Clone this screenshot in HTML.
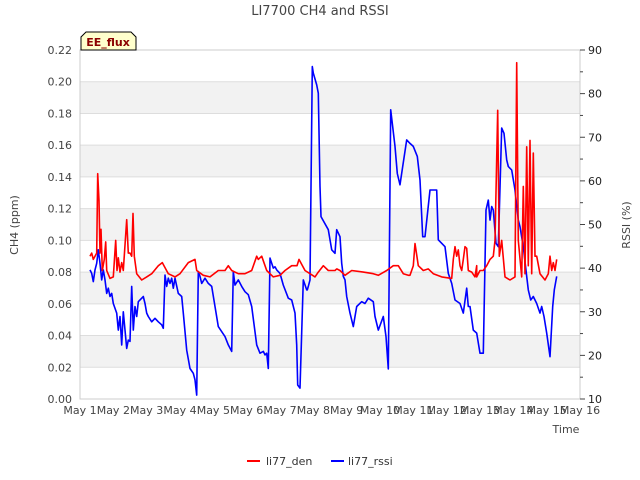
<!DOCTYPE html>
<html><head><meta charset="utf-8"><style>
body{margin:0;background:#fff;}
svg{display:block;font-family:"DejaVu Sans","Liberation Sans",sans-serif;}
</style></head><body>
<svg id="chart" width="640" height="480" xmlns="http://www.w3.org/2000/svg">
<text x="320" y="15" text-anchor="middle" font-size="13" fill="#444">LI7700 CH4 and RSSI</text>
<g id="bands"></g>
<g id="grid"></g>
<rect x="80" y="50" width="500" height="349" fill="none" stroke="#ccc"/>
<g id="yl"></g>
<g id="yr"></g>
<g id="xa"></g>
<g id="series"></g>
<text transform="translate(18,225) rotate(-90)" text-anchor="middle" font-size="11" fill="#444">CH4 (ppm)</text>
<text transform="translate(630,225) rotate(-90)" text-anchor="middle" font-size="11" fill="#444">RSSI (%)</text>
<text x="566" y="433" text-anchor="middle" font-size="11" fill="#444">Time</text>
<g>
<path d="M81,50 L81,37 L86,32 L131,32 L136,37 L136,50 Z" fill="#ffffcc" stroke="#000" stroke-width="1"/>
<text x="108" y="46" text-anchor="middle" font-size="11" font-weight="bold" fill="#8b0000">EE_flux</text>
</g>
<g>
<g><line x1="247" y1="461" x2="260" y2="461" stroke="#f00" stroke-width="2"/><text x="266" y="465" font-size="11" fill="#333">li77_den</text></g>
<g><line x1="331" y1="461" x2="344" y2="461" stroke="#00f" stroke-width="2"/><text x="348" y="465" font-size="11" fill="#333">li77_rssi</text></g>
</g>
</svg>
<script>
const ch4Ticks=[0,0.02,0.04,0.06,0.08,0.10,0.12,0.14,0.16,0.18,0.20,0.22];
const rssiTicks=[10,20,30,40,50,60,70,80,90];
const xTickLabels=["May 1","May 2","May 3","May 4","May 5","May 6","May 7","May 8","May 9","May 10","May 11","May 12","May 13","May 14","May 15","May 16"];
const redDays=[0.3,0.35,0.4,0.45,0.5,0.53,0.57,0.6,0.63,0.67,0.73,0.77,0.8,0.9,1.0,1.07,1.11,1.15,1.2,1.25,1.3,1.4,1.45,1.5,1.55,1.59,1.63,1.7,1.85,2.0,2.15,2.35,2.47,2.65,2.85,3.0,3.25,3.45,3.5,3.7,3.9,4.15,4.35,4.45,4.55,4.75,4.95,5.15,5.3,5.35,5.45,5.6,5.8,6.0,6.15,6.35,6.5,6.51,6.57,6.75,6.9,7.05,7.15,7.3,7.45,7.55,7.65,7.7,7.8,7.95,8.15,8.5,8.8,8.95,9.2,9.4,9.55,9.7,9.85,9.9,10.0,10.05,10.15,10.3,10.45,10.6,10.85,11.15,11.15,11.2,11.25,11.3,11.35,11.4,11.45,11.5,11.55,11.6,11.65,11.75,11.85,11.9,11.9,12.0,12.1,12.2,12.3,12.4,12.45,12.53,12.58,12.65,12.75,12.9,13.05,13.1,13.15,13.25,13.3,13.35,13.4,13.45,13.5,13.55,13.6,13.65,13.7,13.8,13.95,14.05,14.1,14.15,14.2,14.25,14.3];
const redCh4=[0.090,0.092,0.088,0.090,0.092,0.142,0.125,0.092,0.107,0.081,0.088,0.099,0.081,0.076,0.077,0.100,0.081,0.089,0.080,0.086,0.081,0.113,0.092,0.092,0.090,0.117,0.090,0.079,0.075,0.077,0.079,0.084,0.086,0.079,0.077,0.079,0.086,0.088,0.081,0.078,0.077,0.081,0.081,0.084,0.081,0.079,0.079,0.081,0.090,0.088,0.090,0.081,0.077,0.078,0.081,0.084,0.084,0.084,0.088,0.081,0.079,0.077,0.080,0.084,0.081,0.081,0.081,0.082,0.081,0.078,0.081,0.080,0.079,0.078,0.081,0.084,0.084,0.079,0.078,0.078,0.084,0.098,0.084,0.081,0.082,0.079,0.077,0.076,0.076,0.088,0.096,0.090,0.094,0.084,0.081,0.088,0.096,0.095,0.081,0.080,0.077,0.084,0.077,0.081,0.081,0.084,0.088,0.090,0.100,0.182,0.090,0.100,0.077,0.075,0.077,0.212,0.100,0.077,0.134,0.079,0.159,0.084,0.163,0.079,0.155,0.090,0.090,0.079,0.075,0.079,0.090,0.081,0.086,0.081,0.088];
const blueDays=[0.3,0.35,0.4,0.45,0.5,0.55,0.6,0.65,0.7,0.75,0.8,0.85,0.9,0.95,1.0,1.1,1.15,1.2,1.25,1.3,1.35,1.4,1.45,1.5,1.55,1.6,1.65,1.7,1.75,1.85,1.9,1.95,2.0,2.05,2.15,2.25,2.35,2.45,2.5,2.55,2.6,2.65,2.7,2.75,2.8,2.85,2.95,3.05,3.1,3.2,3.3,3.4,3.45,3.5,3.55,3.6,3.65,3.75,3.85,3.95,4.05,4.15,4.35,4.45,4.55,4.6,4.65,4.75,4.85,4.95,5.05,5.15,5.3,5.4,5.5,5.55,5.6,5.65,5.7,5.75,5.8,5.85,5.9,6.0,6.1,6.25,6.35,6.45,6.5,6.53,6.6,6.7,6.8,6.82,6.85,6.9,6.97,7.0,7.1,7.15,7.2,7.23,7.45,7.55,7.65,7.7,7.8,7.85,7.9,7.95,8.0,8.1,8.2,8.25,8.3,8.45,8.55,8.65,8.8,8.85,8.95,9.1,9.18,9.25,9.32,9.45,9.52,9.6,9.68,9.8,9.9,10.0,10.12,10.2,10.28,10.35,10.5,10.6,10.7,10.75,10.85,10.95,11.05,11.15,11.25,11.4,11.5,11.6,11.65,11.7,11.8,11.9,12.0,12.1,12.18,12.25,12.3,12.35,12.4,12.48,12.55,12.65,12.72,12.8,12.85,12.95,13.05,13.15,13.2,13.3,13.4,13.45,13.52,13.6,13.7,13.8,13.85,13.92,14.0,14.1,14.18,14.23,14.3];
const blueRssi=[39.6,38.8,36.9,39.6,41.1,44.2,41.1,37.3,39.6,37.3,34.2,35.4,33.5,34.2,31.9,29.7,25.8,28.9,22.4,30.0,25.8,21.6,23.5,23.2,35.8,25.8,31.2,28.9,32.3,33.1,33.5,31.9,29.7,28.9,27.7,28.5,27.7,27.0,26.2,38.4,35.8,37.7,36.5,37.7,35.4,37.7,34.2,33.5,29.7,21.2,17.0,15.9,14.4,10.9,39.2,38.1,36.5,37.7,36.5,35.8,31.2,26.6,24.3,22.4,20.9,39.2,36.1,37.3,35.8,34.6,33.9,31.2,22.4,20.5,20.9,20.1,20.5,17.0,42.3,41.1,40.0,40.3,39.6,38.8,36.1,33.1,32.7,29.7,22.4,13.2,12.5,37.3,35.0,35.0,35.8,37.3,86.2,84.7,82.0,80.1,58.7,51.8,48.8,44.2,43.4,48.8,47.2,41.1,38.1,37.3,33.5,29.7,26.6,28.9,31.2,32.3,31.9,33.1,32.3,28.9,25.8,28.9,24.3,16.9,76.3,67.9,61.7,59.1,63.3,69.4,68.6,67.9,65.6,60.2,47.2,47.2,57.9,57.9,57.9,46.5,45.7,44.9,38.8,36.5,32.7,31.9,29.7,35.4,31.2,31.2,25.8,25.1,20.5,20.5,53.3,55.6,51.0,54.1,53.3,45.7,44.9,72.1,70.9,64.8,63.3,62.5,57.9,51.0,49.5,44.9,38.1,35.0,32.7,33.5,31.9,29.7,31.2,28.9,25.1,19.7,31.2,35.0,38.1];

const X=d=>80+d*500/15;
const YL=v=>399-v/0.22*349;
const YR=v=>399-(v-10)/80*349;
const NS="http://www.w3.org/2000/svg";
function mk(tag,attrs,parent,text){const e=document.createElementNS(NS,tag);for(const k in attrs)e.setAttribute(k,attrs[k]);if(text!==undefined)e.textContent=text;parent.appendChild(e);return e;}
const bands=document.getElementById('bands'),grid=document.getElementById('grid');
ch4Ticks.forEach((t,i)=>{
  if(i%2===1&&i<ch4Ticks.length-1){const b=mk('rect',{x:80,y:YL(ch4Ticks[i+1]),width:500,height:YL(t)-YL(ch4Ticks[i+1]),fill:'#f2f2f2'},bands);
  
  }
  const g=mk('line',{x1:80,x2:580,y1:YL(t),y2:YL(t),stroke:'#ddd'},grid);
  
  
  const l=mk('text',{x:72,y:YL(t)+4,'text-anchor':'end','font-size':11,fill:'#444'},document.getElementById('yl'),t.toFixed(2));
  
  
});
const yr=document.getElementById('yr');
rssiTicks.forEach((t,i)=>{
  mk('line',{x1:580,x2:585,y1:YR(t),y2:YR(t),stroke:'#444'},yr);
  if(i<rssiTicks.length-1)mk('line',{x1:580,x2:583,y1:YR(t+5),y2:YR(t+5),stroke:'#444'},yr);
  const l=mk('text',{x:588,y:YR(t)+4,'font-size':11,fill:'#222'},yr,String(t));
  
  
});
const xa=document.getElementById('xa');
xTickLabels.forEach((s,i)=>{
  const l=mk('text',{x:X(i),y:414,'text-anchor':'middle','font-size':11,fill:'#444'},xa,s);
  
  
});
const ser=document.getElementById('series');
const pb=mk('polyline',{points:blueDays.map((d,i)=>X(d).toFixed(1)+','+YR(blueRssi[i]).toFixed(1)).join(' '),fill:'none',stroke:'#00f','stroke-width':1.6,'stroke-linejoin':'round'},ser);


const pr=mk('polyline',{points:redDays.map((d,i)=>X(d).toFixed(1)+','+YL(redCh4[i]).toFixed(1)).join(' '),fill:'none',stroke:'#f00','stroke-width':1.6,'stroke-linejoin':'round'},ser);


</script>
</body></html>
